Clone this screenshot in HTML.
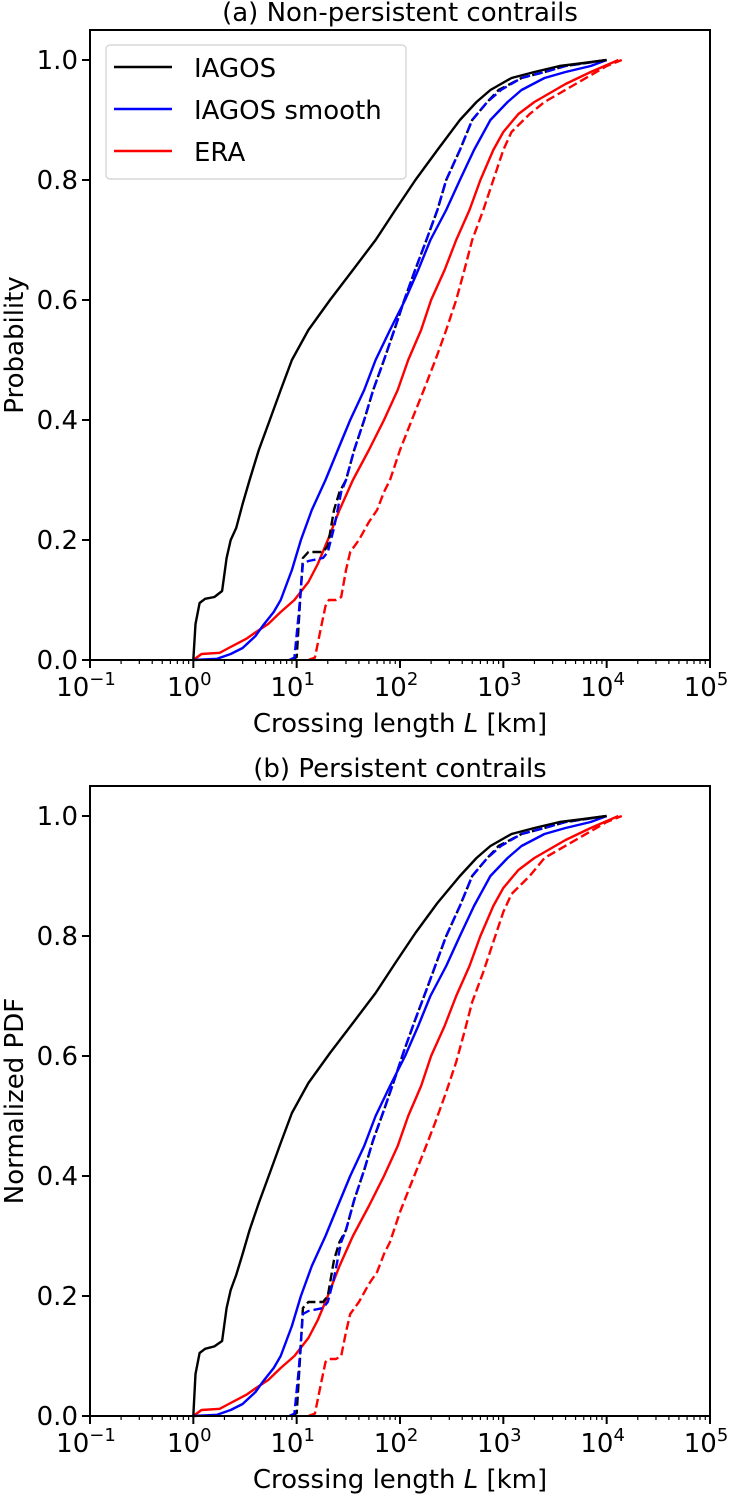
<!DOCTYPE html>
<html><head><meta charset="utf-8"><style>
body{margin:0;background:#fff;}
svg text{font-family:"DejaVu Sans","Liberation Sans",sans-serif;fill:#000;}
</style></head><body>
<svg id="chart" width="733" height="1494" viewBox="0 0 733 1494" xmlns="http://www.w3.org/2000/svg"></svg>
<script>
// Data: crossing length L (km) and cumulative probability
const aBlackL=[1,1.05,1.15,1.3,1.6,1.9,2.1,2.3,2.6,3,3.5,4.3,5.5,7,9,13,21,35,58,90,141,230,380,550,750,1200,2000,3500,6000,10000];
const aBlackP=[0,0.06,0.095,0.102,0.105,0.115,0.17,0.2,0.22,0.26,0.3,0.35,0.4,0.45,0.5,0.55,0.6,0.65,0.7,0.75,0.8,0.85,0.9,0.93,0.95,0.97,0.98,0.99,0.995,1.0];
const aBlueL=[1,1.7,2.3,3,4,4.7,6,7,9,11,14,19,25,33,45,58,80,112,150,197,280,380,520,750,1100,1500,2500,4000,7000,10000];
const aBlueP=[0,0.002,0.01,0.02,0.04,0.057,0.08,0.1,0.15,0.2,0.25,0.3,0.35,0.4,0.45,0.5,0.55,0.6,0.65,0.7,0.75,0.8,0.85,0.9,0.93,0.95,0.97,0.98,0.99,1.0];
const aBlackDL=[9,10,11,11.5,13,18,20,23,26,30,36,45,55,70,88,110,140,180,230,280,380,500,700,900,1500,2500,4000,10000];
const aBlackDP=[0,0.005,0.12,0.17,0.18,0.18,0.19,0.25,0.28,0.3,0.35,0.4,0.45,0.5,0.55,0.6,0.65,0.7,0.75,0.8,0.85,0.9,0.93,0.95,0.97,0.98,0.99,1.0];
const aBlueDL=[8.5,9.5,10.5,11.5,13,18,20,23,27,30,36,45,55,70,88,110,140,180,230,280,380,500,700,950,1500,2500,4000,10000];
const aBlueDP=[0,0.004,0.08,0.16,0.165,0.17,0.18,0.22,0.28,0.3,0.35,0.4,0.45,0.5,0.55,0.6,0.65,0.7,0.75,0.8,0.85,0.9,0.93,0.95,0.97,0.98,0.99,1.0];
const aRedL=[1,1.2,1.8,2.2,2.7,3.3,4,5.3,7,9.5,13,16,20,26,35,50,70,95,120,160,200,270,350,470,600,800,1000,1400,2000,4000,7000,13000];
const aRedP=[0,0.01,0.012,0.02,0.028,0.036,0.046,0.06,0.08,0.1,0.13,0.16,0.2,0.25,0.3,0.35,0.4,0.45,0.5,0.55,0.6,0.65,0.7,0.75,0.8,0.85,0.88,0.91,0.93,0.96,0.98,1.0];
const aRedDL=[13,15,17,19,20.5,24,27,30,33,40,50,60,70,80,100,130,170,220,280,350,420,500,640,800,1000,1200,1800,2500,5000,10000,14000];
const aRedDP=[0,0.004,0.05,0.09,0.1,0.1,0.105,0.15,0.18,0.2,0.23,0.25,0.28,0.3,0.35,0.4,0.45,0.5,0.55,0.6,0.65,0.7,0.75,0.8,0.85,0.88,0.91,0.93,0.96,0.99,1.0];
const bBlackP=[0,0.07,0.105,0.112,0.116,0.125,0.18,0.21,0.235,0.27,0.31,0.355,0.405,0.455,0.505,0.555,0.605,0.655,0.705,0.755,0.805,0.855,0.9,0.93,0.95,0.97,0.98,0.99,0.995,1.0];
const bBlackDP=[0,0.005,0.12,0.18,0.19,0.19,0.2,0.26,0.29,0.31,0.36,0.41,0.46,0.51,0.56,0.61,0.66,0.71,0.76,0.8,0.85,0.9,0.93,0.95,0.97,0.98,0.99,1.0];
const bBlueDP=[0,0.004,0.08,0.17,0.175,0.18,0.19,0.23,0.29,0.31,0.36,0.41,0.46,0.51,0.56,0.61,0.66,0.71,0.76,0.8,0.85,0.9,0.93,0.95,0.97,0.98,0.99,1.0];
const bRedDP=[0,0.004,0.05,0.09,0.095,0.095,0.1,0.14,0.17,0.19,0.22,0.24,0.27,0.29,0.34,0.39,0.44,0.49,0.54,0.59,0.64,0.69,0.74,0.79,0.84,0.87,0.9,0.93,0.96,0.99,1.0];
const xTickExp=[-1,0,1,2,3,4,5];
const yTicks=[0,0.2,0.4,0.6,0.8,1.0];

const NS="http://www.w3.org/2000/svg";
const svg=document.getElementById('chart');
function mk(tag,attrs,parent){const e=document.createElementNS(NS,tag);for(const k in attrs)e.setAttribute(k,attrs[k]);(parent||svg).appendChild(e);return e;}
const X0=90,X1=710,FS=26;
function xs(L){return X0+(Math.log10(L)+1)/6*(X1-X0);}

function panel(top,title,ylabel,series,legend,id){
  const bottom=top+630;
  const ys=p=>bottom-600*p;
  const g=mk('g',{});
  
  
  const t=mk('text',{x:400,y:top-9,'font-size':FS,'text-anchor':'middle'},g);
  t.textContent=title;
  
  
  series.forEach(s=>{
    let d='';
    s.L.forEach((L,i)=>{d+=(i?'L':'M')+xs(L).toFixed(1)+' '+ys(s.P[i]).toFixed(1);});
    const p=mk('path',{d:d,fill:'none',stroke:s.c,'stroke-width':2.4,'stroke-dasharray':s.dash?'9,4':'none','stroke-linejoin':'round'},g);
    
    
  });
  const box=mk('rect',{x:X0,y:top,width:X1-X0,height:630,fill:'none',stroke:'#000','stroke-width':2},g);
  
  
  xTickExp.forEach(e=>{
    const x=xs(Math.pow(10,e));
    mk('line',{x1:x,x2:x,y1:bottom,y2:bottom+8,stroke:'#000','stroke-width':2},g);
    const tx=mk('text',{x:x-4,y:bottom+36,'font-size':FS,'text-anchor':'middle'},g);
    tx.innerHTML='10<tspan dy="-11" font-size="18">'+(e<0?'\u2212'+(-e):e)+'</tspan>';
    
    
    if(e<5)for(let m=2;m<10;m++){const xm=xs(m*Math.pow(10,e));mk('line',{x1:xm,x2:xm,y1:bottom,y2:bottom+4,stroke:'#000','stroke-width':1.2},g);}
  });
  yTicks.forEach(v=>{
    const y=ys(v);
    mk('line',{x1:X0-8,x2:X0,y1:y,y2:y,stroke:'#000','stroke-width':2},g);
    const ty=mk('text',{x:X0-12,y:y+9,'font-size':FS,'text-anchor':'end'},g);
    ty.textContent=v.toFixed(1);
    
    
  });
  const xl=mk('text',{x:400,y:bottom+72,'font-size':FS,'text-anchor':'middle'},g);
  xl.innerHTML='Crossing length <tspan font-style="italic">L</tspan> [km]';
  
  
  const yl=mk('text',{x:0,y:0,'font-size':FS,'text-anchor':'middle',transform:'translate(23,'+(top+315)+') rotate(-90)'},g);
  yl.textContent=ylabel;
  
  
  if(legend){
    const lg=mk('g',{},g);
    
    
    mk('rect',{x:106,y:45,width:300,height:134,rx:4,fill:'#fff',stroke:'#ccc','stroke-width':1.2,opacity:0.9},lg);
    [['IAGOS','#000'],['IAGOS smooth','#00f'],['ERA','#f00']].forEach((e,i)=>{
      const y=67+i*42;
      mk('line',{x1:114,x2:172,y1:y,y2:y,stroke:e[1],'stroke-width':2.4},lg);
      const lt=mk('text',{x:194,y:y+10,'font-size':FS},lg);
      lt.textContent=e[0];
      
      
    });
  }
}
panel(30,'(a) Non-persistent contrails','Probability',[
  {L:aRedDL,P:aRedDP,c:'#f00',dash:1,name:'era-dashed-a'},
  {L:aRedL,P:aRedP,c:'#f00',name:'era-a'},
  {L:aBlackDL,P:aBlackDP,c:'#000',dash:1,name:'iagos-dashed-a'},
  {L:aBlueDL,P:aBlueDP,c:'#00f',dash:1,name:'iagos-smooth-dashed-a'},
  {L:aBlueL,P:aBlueP,c:'#00f',name:'iagos-smooth-a'},
  {L:aBlackL,P:aBlackP,c:'#000',name:'iagos-a'}],true,'a');
panel(786,'(b) Persistent contrails','Normalized PDF',[
  {L:aRedDL,P:bRedDP,c:'#f00',dash:1,name:'era-dashed-b'},
  {L:aRedL,P:aRedP,c:'#f00',name:'era-b'},
  {L:aBlackDL,P:bBlackDP,c:'#000',dash:1,name:'iagos-dashed-b'},
  {L:aBlueDL,P:bBlueDP,c:'#00f',dash:1,name:'iagos-smooth-dashed-b'},
  {L:aBlueL,P:aBlueP,c:'#00f',name:'iagos-smooth-b'},
  {L:aBlackL,P:bBlackP,c:'#000',name:'iagos-b'}],false,'b');
</script>
</body></html>
